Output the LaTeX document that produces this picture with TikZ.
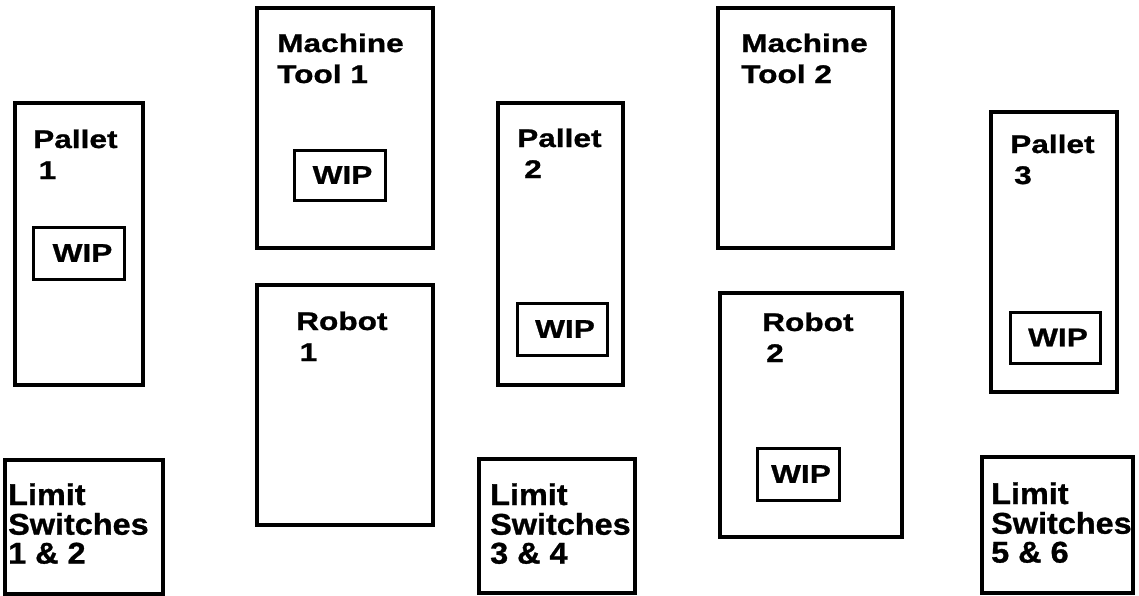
\documentclass[tikz,border=0pt]{standalone}
\usepackage{fontspec}
\newfontfamily\labfont[FakeStretch=1.24,FakeBold=1]{Liberation Sans}
\newfontfamily\lsfont[FakeStretch=1.08,FakeBold=1]{Liberation Sans}
\tikzset{
  unit/.style={draw, line width=3.5pt, inner sep=0pt, rectangle},
  wip/.style={draw, line width=3pt, inner sep=0pt, rectangle,
    font=\labfont\bfseries\fontsize{25.5}{30}\selectfont},
  lab/.style={anchor=base west, inner sep=0pt,
    font=\labfont\bfseries\fontsize{25.5}{31}\selectfont},
  lslab/.style={anchor=base west, inner sep=0pt,
    font=\lsfont\bfseries\fontsize{30}{26.5}\selectfont},
}
\newcommand\twolines[3]{\begin{tabular}[t]{@{}l@{}}#1\\\hspace*{#2}#3\end{tabular}}
\newcommand\threelines[3]{\begin{tabular}[t]{@{}l@{}}#1\\#2\\#3\end{tabular}}
\begin{document}
\begin{tikzpicture}[x=1pt,y=-1pt]
\useasboundingbox (0,0) rectangle (1139,595);
% Pallet 1
\node[unit, minimum width=128pt, minimum height=282pt] (p1) at (79,244) {};
\node[lab] (p1t) at (33,148) {\twolines{Pallet}{5.5pt}{1}};
\node[wip, minimum width=91pt, minimum height=52pt] (p1w) at (78.5,253) {\hspace*{8pt}WIP};
% Machine Tool 1
\node[unit, minimum width=176pt, minimum height=240pt] (mt1) at (345,128) {};
\node[lab] (mt1t) at (277,52) {\twolines{Machine}{0pt}{Tool 1}};
\node[wip, minimum width=91pt, minimum height=50pt] (mt1w) at (339.5,175) {\hspace*{6pt}WIP};
% Robot 1
\node[unit, minimum width=176pt, minimum height=240pt] (r1) at (345,405) {};
\node[lab] (r1t) at (296,330) {\twolines{Robot}{3.5pt}{1}};
% Pallet 2
\node[unit, minimum width=125pt, minimum height=282pt] (p2) at (560.5,244) {};
\node[lab] (p2t) at (517,147) {\twolines{Pallet}{7pt}{2}};
\node[wip, minimum width=90pt, minimum height=52pt] (p2w) at (562,329) {\hspace*{6pt}WIP};
% Machine Tool 2
\node[unit, minimum width=175pt, minimum height=240pt] (mt2) at (805.5,128) {};
\node[lab] (mt2t) at (741,52) {\twolines{Machine}{0pt}{Tool 2}};
% Robot 2
\node[unit, minimum width=182pt, minimum height=244pt] (r2) at (811,415) {};
\node[lab] (r2t) at (762,331) {\twolines{Robot}{4pt}{2}};
\node[wip, minimum width=82pt, minimum height=52pt] (r2w) at (798,474) {\hspace*{6pt}WIP};
% Pallet 3
\node[unit, minimum width=126pt, minimum height=280pt] (p3) at (1054,252) {};
\node[lab] (p3t) at (1010,153) {\twolines{Pallet}{4pt}{3}};
\node[wip, minimum width=90pt, minimum height=51pt] (p3w) at (1055,337.5) {\hspace*{6pt}WIP};
% Limit switches
\node[unit, minimum width=158pt, minimum height=134pt] (ls12) at (84,527) {};
\node[lslab] (ls12t) at (8,505) {\threelines{Limit}{Switches}{1 \& 2}};
\node[unit, minimum width=156pt, minimum height=134pt] (ls34) at (557,526) {};
\node[lslab] (ls34t) at (490,505) {\threelines{Limit}{Switches}{3 \& 4}};
\node[unit, minimum width=151pt, minimum height=136pt] (ls56) at (1057.5,525) {};
\node[lslab] (ls56t) at (991,504) {\threelines{Limit}{Switches}{5 \& 6}};
\end{tikzpicture}
\end{document}
